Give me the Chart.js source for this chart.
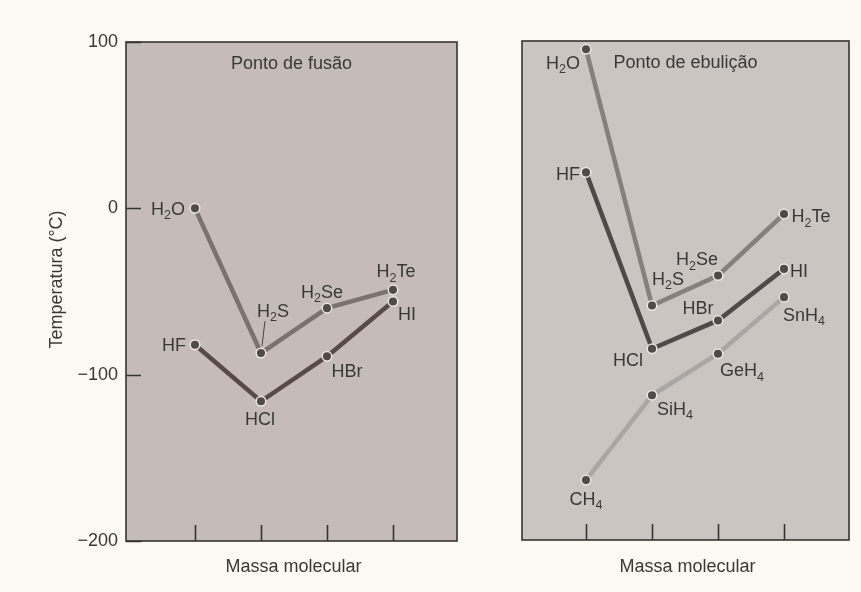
<!DOCTYPE html>
<html><head><meta charset="utf-8">
<script src="https://cdn.jsdelivr.net/npm/chart.js@4/dist/chart.umd.min.js"></script>
<style>
html,body{margin:0;padding:0;background:#fbf9f2;}
#wrap{position:relative;width:861px;height:592px;overflow:hidden;}
#c1{position:absolute;left:0;top:0;}
#c2{position:absolute;left:470px;top:0;}
</style></head><body>
<div id="wrap"><canvas id="c1" width="470" height="592"></canvas><canvas id="c2" width="391" height="592"></canvas></div>
<script>
// ---- data ----
const massPositions = [1, 2, 3, 4];
const yTicks = [100, 0, -100, -200];
const fusionTitle = 'Ponto de fusão';
const boilTitle = 'Ponto de ebulição';
const xTitle = 'Massa molecular';
const yTitle = 'Temperatura (°C)';

const group16Names = ['H2O', 'H2S', 'H2Se', 'H2Te'];
const group17Names = ['HF', 'HCl', 'HBr', 'HI'];
const group14Names = ['CH4', 'SiH4', 'GeH4', 'SnH4'];

const fusionGroup16 = [0, -87, -60, -49];
const fusionGroup17 = [-82, -116, -89, -56];

const boilGroup16 = [95, -59, -41, -4];
const boilGroup17 = [21, -85, -68, -37];
const boilGroup14 = [-164, -113, -88, -54];

// ---- styles ----
const FONT = '"Liberation Sans", Arial, Helvetica, sans-serif';
const TEXT = '#3a3837';
const labelOffsets = {
  fusion: { H2O:[-27,0], H2S:[12,-43], H2Se:[-5,-17], H2Te:[3,-19], HF:[-21,0], HCl:[-1,17], HBr:[20,14], HI:[14,12] },
  boil: { H2O:[-23,13], H2S:[16,-27], H2Se:[-21,-17], H2Te:[27,2], HF:[-18,1], HCl:[-24,11], HBr:[-20,-13], HI:[15,2],
          CH4:[0,18], SiH4:[23,13], GeH4:[24,16], SnH4:[20,17] }
};
const leaders = { fusion: { H2S: [4,-32,1,-7] }, boil: {} };

function pts(vals){ return vals.map((v,i)=>({x:massPositions[i], y:v})); }

function drawChem(ctx, name, cx, cy){
  const runs = name.match(/\d+|\D+/g).map(t=>({t, sub:/\d/.test(t)}));
  const big = '18px ' + FONT, small = '12.5px ' + FONT;
  let w = 0;
  runs.forEach(r=>{ ctx.font = r.sub?small:big; r.w = ctx.measureText(r.t).width; w += r.w; });
  let x = cx - w/2;
  const base = cy + 6.5;
  ctx.textAlign = 'left'; ctx.textBaseline = 'alphabetic';
  runs.forEach(r=>{ ctx.font = r.sub?small:big; ctx.fillText(r.t, x, r.sub? base+4.5 : base); x += r.w; });
}

const panelPlugin = {
  id: 'panel',
  beforeDraw(chart, args, o){
    const {ctx, chartArea:a} = chart;
    ctx.save();
    ctx.fillStyle = o.bg;
    ctx.fillRect(a.left, a.top, a.width, a.height);
    ctx.restore();
  },
  beforeDatasetsDraw(chart, args, o){
    const {ctx, chartArea:a, scales} = chart;
    ctx.save();
    ctx.strokeStyle = '#383232';
    ctx.lineWidth = 1.6;
    ctx.strokeRect(a.left, a.top, a.width, a.height);
    ctx.beginPath();
    massPositions.forEach(v=>{
      const px = Math.round(scales.x.getPixelForValue(v)) + 0.5;
      ctx.moveTo(px, a.bottom); ctx.lineTo(px, a.bottom - 16);
    });
    if (o.yTickMarks) {
      yTicks.forEach(v=>{
        const py = Math.round(scales.y.getPixelForValue(v)) + 0.5;
        ctx.moveTo(a.left, py); ctx.lineTo(a.left + 15, py);
      });
    }
    ctx.stroke();
    ctx.fillStyle = TEXT;
    ctx.font = '18px ' + FONT;
    ctx.textAlign = 'center'; ctx.textBaseline = 'middle';
    ctx.fillText(o.title, (a.left + a.right)/2, a.top + 22);
    ctx.fillText(xTitle, (a.left + a.right)/2 + 2, 567);
    if (o.yTitle) {
      ctx.translate(57, (a.top + a.bottom)/2 - 12);
      ctx.rotate(-Math.PI/2);
      ctx.fillText(o.yTitle, 0, 0);
    }
    ctx.restore();
  },
  afterDatasetsDraw(chart, args, o){
    const {ctx} = chart;
    ctx.save();
    ctx.fillStyle = TEXT;
    ctx.strokeStyle = '#4a4444';
    ctx.lineWidth = 1;
    chart.data.datasets.forEach((ds, di)=>{
      const meta = chart.getDatasetMeta(di);
      meta.data.forEach((el, i)=>{
        const name = ds.names[i];
        const off = labelOffsets[o.key][name] || [0,-15];
        drawChem(ctx, name, el.x + off[0], el.y + off[1]);
        const ld = leaders[o.key][name];
        if (ld) { ctx.beginPath(); ctx.moveTo(el.x+ld[0], el.y+ld[1]); ctx.lineTo(el.x+ld[2], el.y+ld[3]); ctx.stroke(); }
      });
    });
    ctx.restore();
  }
};

function ds(vals, names, color){
  return { data: pts(vals), names, borderColor: color, borderWidth: 4.5, pointRadius: 4.8,
    pointBackgroundColor: '#524a48', pointBorderColor: '#ebe7e2', pointBorderWidth: 1.5, tension: 0, clip: false };
}

const common = {
  responsive: false, animation: false,
  plugins: { legend: {display:false}, tooltip: {enabled:false} }
};

new Chart(document.getElementById('c1'), {
  type: 'line',
  data: { datasets: [ ds(fusionGroup16, group16Names, '#7b716d'), ds(fusionGroup17, group17Names, '#574a49') ] },
  options: Object.assign({}, common, {
    layout: { padding: { left: 0, right: 13, top: 42, bottom: 51 } },
    plugins: Object.assign({}, common.plugins, { panel: { bg: '#c5bcb7', title: fusionTitle, key: 'fusion', yTickMarks: true, yTitle: yTitle } }),
    scales: {
      x: { type: 'linear', min: -0.045, max: 4.97, display: false },
      y: { type: 'linear', min: -200, max: 100,
        afterBuildTicks: s => { s.ticks = yTicks.map(v=>({value:v})); },
        afterFit: s => { s.width = 126; },
        grid: { display: false, drawTicks: false }, border: { display: false },
        ticks: { padding: 8, color: TEXT, font: { size: 18, family: FONT }, callback: v => String(v).replace('-', '\u2212') },
        title: { display: false }
      }
    }
  }),
  plugins: [panelPlugin]
});

new Chart(document.getElementById('c2'), {
  type: 'line',
  data: { datasets: [ ds(boilGroup16, group16Names, '#86807d'), ds(boilGroup17, group17Names, '#514949'), ds(boilGroup14, group14Names, '#aaa6a3') ] },
  options: Object.assign({}, common, {
    layout: { padding: { left: 52, right: 12, top: 41, bottom: 52 } },
    plugins: Object.assign({}, common.plugins, { panel: { bg: '#cbc5c1', title: boilTitle, key: 'boil', yTickMarks: false } }),
    scales: {
      x: { type: 'linear', min: 0.03, max: 4.985, display: false },
      y: { type: 'linear', min: -200, max: 100, display: false }
    }
  }),
  plugins: [panelPlugin]
});
</script>
</body></html>
